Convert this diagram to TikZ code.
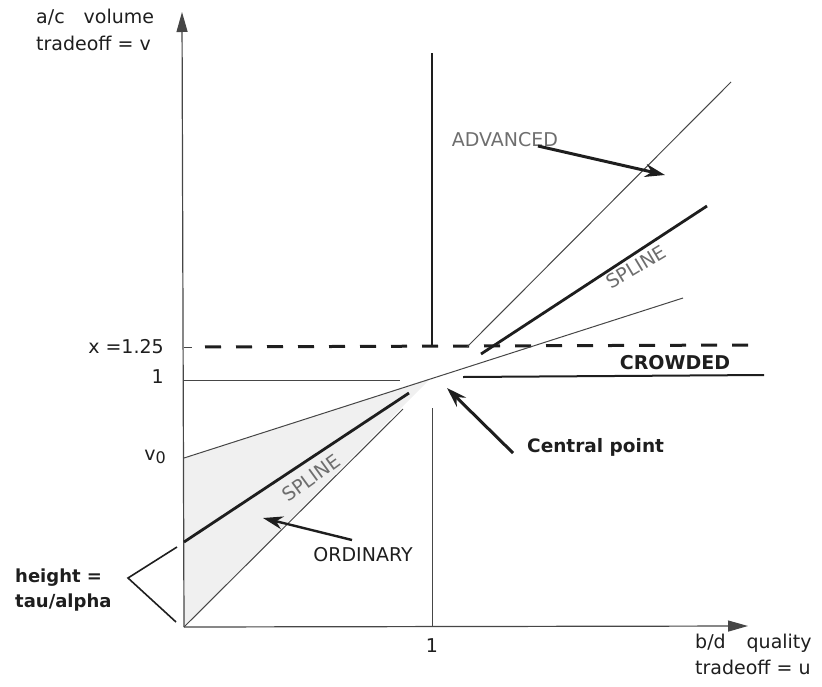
\documentclass[tikz,border=0pt]{standalone}
\usepackage{fontspec}
\setmainfont{DejaVu Sans}
\usepackage{tikz}
\usetikzlibrary{arrows.meta, positioning, calc}
\definecolor{inkdark}{RGB}{30,30,30}
\definecolor{inkline}{RGB}{70,70,70}
\definecolor{inkgray}{RGB}{110,110,110}
\definecolor{wedgegray}{RGB}{240,240,240}
\tikzset{
  axis/.style={line width=1.2pt, color=inkline, -{Triangle[length=20pt,width=11pt]}},
  thinline/.style={line width=1pt, color=inkline},
  thickline/.style={line width=2.8pt, color=inkdark},
  dashline/.style={line width=3pt, color=inkdark, dash pattern=on 16pt off 15pt},
  callout/.style={line width=3pt, color=inkdark, -{Stealth[length=20pt,width=13pt]}},
  lbl/.style={font=\fontsize{19}{28}\selectfont, text=inkdark, inner sep=0pt},
  boldlbl/.style={font=\fontsize{19}{28}\selectfont\bfseries, text=inkdark, inner sep=0pt},
  graylbl/.style={font=\fontsize{19}{28}\selectfont, text=inkgray, inner sep=0pt}
}
\begin{document}
\begin{tikzpicture}[x=1pt, y=-1pt]
  \useasboundingbox (0,0) rectangle (822,686);

  % key points
  \coordinate (o) at (184,627);
  \coordinate (c) at (431,378);
  \coordinate (v0) at (184,458);
  \coordinate (tau) at (184,542);

  % shaded wedge
  \fill[wedgegray] (v0) -- (c) -- (o) -- cycle;

  % axes
  \draw[axis] (o) -- (182,12);
  \draw[axis] (o) -- (748,626);

  % level lines
  \draw[thinline] (184,380) -- (400,380);
  \draw[thickline, line width=2pt] (463,377) -- (764,375);
  \draw[dashline, dash phase=-15pt] (190,347) -- (750,345);
  \draw[thinline] (184,347) -- (192,347);
  \draw[thickline] (432,53) -- (432,347);
  \draw[thinline] (432,408) -- (432,627);

  % rays through the central point
  \draw[thinline] (v0) -- (683,298);
  \draw[thickline] (tau) -- (409,393);
  \draw[thinline] (o) -- (403,409);
  \draw[thinline] (467,347) -- (731,82);
  \draw[thickline] (481,354) -- (707,206);

  % bracket
  \draw[line width=1.6pt, color=inkdark] (177,547) -- (128,578) -- (176,622);

  % axis labels
  \node[lbl, font=\fontsize{19}{27}\selectfont, align=left, anchor=north west] (vaxis) at (36,9)
    {a/c\hspace{1em}volume\\tradeoff = v};
  \node[lbl, font=\fontsize{19}{26}\selectfont, align=left, anchor=north west] (uaxis) at (695,634)
    {b/d\hspace{1.1em}quality\\tradeoff = u};
  \node[lbl, anchor=east] (xlev) at (164,347) {x =1.25};
  \node[lbl, anchor=east] (one) at (164,377) {1};
  \node[lbl, anchor=east] (vzero) at (166,457)
    {v\raisebox{-0.35ex}{\fontsize{16}{16}\selectfont 0}};
  \node[lbl] (uone) at (432,646) {1};
  \node[boldlbl, font=\fontsize{18}{25}\selectfont\bfseries, align=left, anchor=west]
    (height) at (15,590) {height =\\tau/alpha};

  % region labels
  \node[graylbl] (adv) at (505,140) {ADVANCED};
  \node[graylbl, rotate=31] (splup) at (636,267) {SPLINE};
  \node[graylbl, rotate=36] (spldn) at (311,478) {SPLINE};
  \node[lbl] (ord) at (363,555) {ORDINARY};
  \node[boldlbl] (crowd) at (675,363) {CROWDED};
  \node[lbl, font=\fontsize{18.5}{20}\selectfont\bfseries, anchor=west] (cp) at (527,447) {Central point};

  % callouts
  \coordinate (advtail) at (538,146);
  \coordinate (advtip) at (665,175);
  \coordinate (ordtail) at (352,540);
  \coordinate (ordtip) at (263,518);
  \coordinate (cptail) at ($(cp.west)+(-14,6)$);
  \coordinate (cptip) at (447,388);
  \draw[callout] (advtail) -- (advtip);
  \draw[callout, line width=2.4pt] (ordtail) -- (ordtip);
  \draw[callout] (cptail) -- (cptip);
\end{tikzpicture}
\end{document}
